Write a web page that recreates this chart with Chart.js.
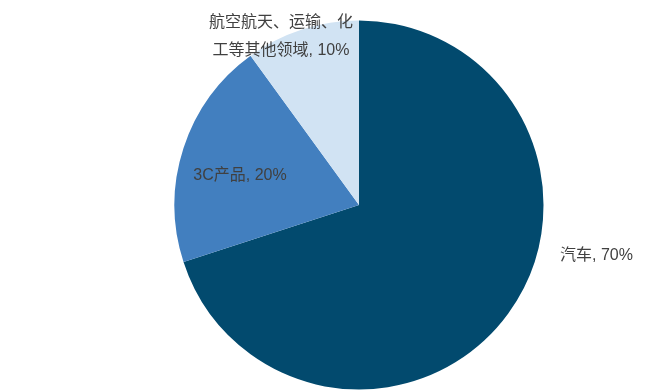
<!DOCTYPE html>
<html>
<head>
<meta charset="utf-8">
<script src="https://cdn.jsdelivr.net/npm/chart.js@4/dist/chart.umd.min.js"></script>
<style>
  html, body { margin: 0; padding: 0; background: #ffffff; }
  #wrap { width: 646px; height: 390px; }
</style>
</head>
<body>
<div id="wrap"><canvas id="c" width="646" height="390"></canvas></div>
<script>
// Share of applications (%)
const categories = ['汽车', '3C产品', '航空航天、运输、化工等其他领域'];
const shares = [70, 20, 10];
const sliceColors = ['#024A6E', '#427FBF', '#D1E3F3'];

// Label placement relative to the pie centre (dx, dy) and text alignment
const labelPlacement = [
  { dx: 201, dy: 51, align: 'left' },
  { dx: -78, dy: -182, align: 'center' }
];
labelPlacement.splice(1, 0, { dx: -119, dy: -29, align: 'center' });
const LABEL_FONT = '16px "Liberation Sans", "Noto Sans CJK SC", sans-serif';
const LABEL_WRAP = 152;
const LINE_HEIGHT = 28;

function wrapText(ctx, text, maxWidth) {
  const lines = [];
  let cur = '';
  for (const ch of Array.from(text)) {
    if (cur && ctx.measureText(cur + ch).width > maxWidth && /[\u3000-\u9fff]/.test(ch)) {
      lines.push(cur);
      cur = ch;
    } else {
      cur += ch;
    }
  }
  if (cur) lines.push(cur);
  return lines;
}

const sliceLabels = {
  id: 'sliceLabels',
  afterDatasetsDraw(chart) {
    const ctx = chart.ctx;
    const meta = chart.getDatasetMeta(0);
    ctx.save();
    ctx.font = LABEL_FONT;
    ctx.fillStyle = '#404040';
    ctx.textBaseline = 'middle';
    meta.data.forEach((arc, i) => {
      const p = labelPlacement[i];
      const text = categories[i] + ', ' + shares[i] + '%';
      // long category names wrap; the value stays on the last line
      const lines = wrapText(ctx, text, LABEL_WRAP);
      ctx.textAlign = p.align;
      lines.forEach((ln, k) => {
        ctx.fillText(ln, arc.x + p.dx, arc.y + p.dy + k * LINE_HEIGHT);
      });
    });
    ctx.restore();
  }
};

new Chart(document.getElementById('c'), {
  type: 'pie',
  data: {
    labels: categories,
    datasets: [{
      data: shares,
      backgroundColor: sliceColors,
      borderWidth: 0
    }]
  },
  options: {
    responsive: false,
    animation: false,
    rotation: 0,
    radius: 184.5,
    layout: { padding: { left: 72, top: 20, right: 0, bottom: 0 } },
    plugins: {
      legend: { display: false },
      tooltip: { enabled: false }
    }
  },
  plugins: [sliceLabels]
});
</script>
</body>
</html>
